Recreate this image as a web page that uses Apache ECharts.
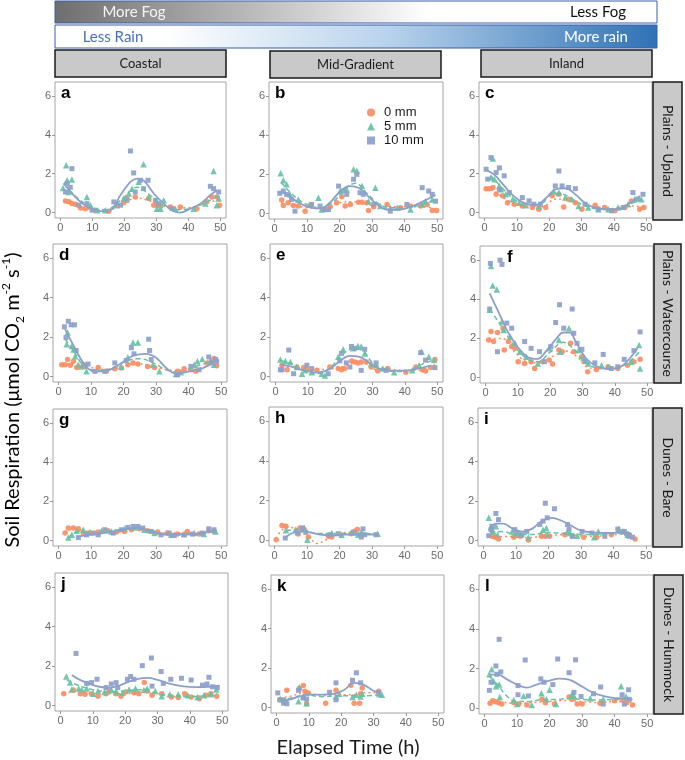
<!DOCTYPE html>
<html>
<head>
<meta charset="utf-8">
<title>Soil respiration</title>
<script src="https://cdn.jsdelivr.net/npm/echarts/dist/echarts.min.js"></script>
</head>
<body style="margin:0;background:#fff;">
<div id="main" style="width:685px;height:760px;"></div>
<script>
// ticks and labels
var xTicks = [0, 10, 20, 30, 40, 50];
var yTicks = [0, 2, 4, 6];
var columns = ['Coastal', 'Mid-Gradient', 'Inland'];
var rows = ['Plains - Upland', 'Plains - Watercourse', 'Dunes - Bare', 'Dunes - Hummock'];
var letters = ['a', 'b', 'c', 'd', 'e', 'f', 'g', 'h', 'i', 'j', 'k', 'l'];
var seriesNames = ['0 mm', '5 mm', '10 mm'];

// panel a : Coastal / Plains - Upland
var a_0mm = [[1.6,0.6],[2.6,0.55],[3.6,0.46],[4.7,0.43],[6.3,0.24],[7.8,0.2],[10.9,0.12],[15.1,0.07],[17.7,0.38],[19.8,0.5],[20.8,0.72],[23.4,0.8],[27.6,0.72],[29.2,0.38],[30.2,0.38],[31.3,0.33],[34.4,0.29],[37.5,0.29],[42.7,0.2],[45.8,0.55],[47.4,0.8],[49,0.8],[49.8,0.38]];
var a_5mm = [[0.8,1.27],[1.8,2.43],[2.1,1.66],[3.6,1.7],[2.6,1.06],[8.3,0.8],[9.4,0.38],[11.5,0.12],[14,0.12],[17.7,0.38],[19.8,0.72],[21.4,0.98],[22.4,1.23],[24.5,1.58],[26,2.49],[27.6,0.8],[30.2,0.2],[31.3,0.2],[32.3,0.63],[35.9,0.2],[41.7,0.2],[45.3,0.46],[47.9,2.14],[48.9,0.38],[49.5,0.72]];
var a_10mm = [[1.6,1.06],[2.1,1.5],[3.6,2.26],[3.1,1.3],[5.7,0.38],[8.3,0.46],[9.9,0.12],[16.7,0.55],[18.8,0.38],[20.8,0.63],[21.9,3.17],[22.9,2.04],[23.4,1.06],[25,1.66],[26,1.23],[27.4,1.66],[29.7,0.63],[30.7,0.46],[34.9,0.2],[46.9,1.35],[47.9,1.23],[49.5,1.06]];
var a_fit0 = [[1,0.6],[5,0.4],[10,0.15],[15,0.15],[20,0.5],[24,0.75],[28,0.6],[33,0.35],[40,0.25],[46,0.55],[49.8,0.6]];
var a_fit5 = [[1,1.5],[5,0.8],[10,0.25],[14,0.15],[20,0.8],[24,1.3],[28,0.9],[33,0.3],[38,0.15],[44,0.4],[49.5,0.9]];
var a_fit10 = [[1,1.5],[4.7,0.8],[8.3,0.3],[12.5,0.07],[15.6,0.12],[18.8,0.9],[21.9,1.58],[24,1.75],[26,1.66],[29.2,0.98],[32.3,0.46],[35.4,0.07],[37.5,0],[40.6,0.2],[43.8,0.46],[46.9,0.9],[49,1.15]];

// panel b : Mid-Gradient / Plains - Upland
var b_0mm = [[2.2,0.69],[2.7,0.41],[4.2,0.55],[5.8,0.41],[7.3,0.38],[9.4,0.12],[10.9,0.41],[15,0.2],[17.1,0.34],[19.1,0.55],[20.7,0.86],[21.7,0.38],[23.3,0.46],[25.8,0.58],[26.9,0.58],[28.4,0.55],[28.9,0.15],[30.5,0.34],[34.6,0.46],[38.7,0.29],[41.8,0.38],[44.9,0.38],[46.9,0.46],[48.5,0.15],[49.8,0.15]];
var b_5mm = [[1.9,2.06],[2.7,1.7],[3.7,1.5],[4.7,0.98],[7.3,0.72],[13.5,0.8],[14.5,0.2],[16,0.24],[20.2,1.15],[22.2,1.23],[24.3,2.26],[25.3,2.18],[26.9,1.4],[28.9,0.63],[31,1.32],[32.5,0.38],[35.6,0.29],[37.7,0.29],[41.8,0.2],[45.4,0.46],[46.4,0.63],[48.5,0.72]];
var b_10mm = [[1.6,1.03],[2.7,1.15],[3.7,0.98],[5.2,0.72],[6.3,0.12],[11.4,0.46],[14,0.38],[15.5,0.2],[16.6,0.2],[19.7,1.4],[21.2,1.15],[22.2,0.98],[24.3,1.75],[25.3,2],[26.3,1.06],[27.3,0.98],[30.5,0.46],[35.6,0.12],[40.7,0.46],[45.4,1.32],[47.4,1.15],[48.5,0.98],[49.5,0.63]];
var b_fit0 = [[2,0.55],[6,0.4],[10,0.3],[15,0.25],[20,0.55],[24,0.6],[28,0.5],[32,0.35],[37,0.35],[42,0.35],[46,0.35],[49.8,0.2]];
var b_fit5 = [[2,1.6],[6,0.9],[10,0.45],[14,0.3],[18,0.6],[22,1.3],[25,1.55],[28,1.1],[32,0.5],[36,0.3],[40,0.3],[45,0.45],[48.5,0.65]];
var b_fit10 = [[1.6,1.1],[4,0.95],[7,0.6],[10,0.35],[14,0.25],[17,0.55],[20,1.1],[23,1.4],[26,1.3],[29,0.85],[32,0.4],[35,0.2],[38,0.2],[42,0.35],[46,0.65],[49.5,0.95]];

// panel c : Inland / Plains - Upland
var c_0mm = [[0.5,1.23],[1.5,1.23],[2.6,1.29],[3.6,0.94],[5.6,0.86],[7.1,0.51],[9.2,0.43],[11.7,0.34],[14.8,0.26],[16.8,0.17],[18.9,0.26],[20.9,0.86],[23,0.94],[24.5,0.29],[26,0.69],[28.1,0.51],[30.1,0.17],[34.2,0.38],[37.2,0.26],[40.3,0.09],[43.4,0.26],[45.4,0.6],[48,0.17],[49.3,0.26]];
var c_5mm = [[2.6,2.78],[2,1.8],[3.1,1.72],[4.6,1.37],[5.1,1.2],[6.6,0.94],[8.7,0.69],[10.7,0.51],[12.8,0.38],[16.8,0.34],[21.4,1.11],[23,1.03],[25,0.77],[27,0.69],[29.1,0.34],[32.1,0.26],[35.2,0.17],[38.3,0.17],[41.3,0.26],[44.4,0.43],[46.4,0.69],[48.5,0.69]];
var c_10mm = [[0.5,2.23],[2,2.83],[1,1.72],[3.6,2.06],[4.6,2.3],[6.1,1.89],[4.6,1.2],[7.7,1.03],[11.7,0.77],[13.8,0.6],[15.3,0.43],[17.3,0.43],[23,2.14],[21.9,1.37],[24,1.37],[26,1.29],[28.1,1.23],[31.1,0.43],[35.2,0.17],[39.3,0.09],[42.9,0.26],[45.9,1.03],[47.4,0.69],[49,0.94]];
var c_fit0 = [[0.5,1.25],[3,1.1],[6,0.75],[10,0.4],[14,0.28],[18,0.3],[22,0.7],[25,0.65],[28,0.5],[31,0.25],[35,0.3],[40,0.2],[44,0.35],[49,0.3]];
var c_fit5 = [[2,1.9],[5,1.35],[9,0.7],[13,0.4],[17,0.4],[21,0.95],[24,0.95],[27,0.7],[31,0.35],[35,0.2],[40,0.2],[44,0.4],[48.5,0.65]];
var c_fit10 = [[0.5,2.2],[3,1.95],[6,1.4],[9,0.85],[13,0.45],[16,0.4],[19,0.75],[22,1.2],[25,1.25],[28,0.95],[31,0.5],[34,0.25],[38,0.15],[42,0.2],[45,0.5],[48,0.85]];

// panel d : Coastal / Plains - Watercourse
var d_0mm = [[1,0.6],[2,0.6],[2.8,0.86],[3.6,0.57],[4.6,0.77],[5.6,0.46],[8.1,0.51],[12.2,0.46],[14.7,0.26],[17.3,0.39],[19.3,0.43],[21.3,0.6],[22.9,0.69],[24.4,0.63],[27.4,0.51],[29.5,0.46],[36.6,0.26],[38.6,0.39],[40.7,0.34],[42.2,0.26],[45.7,0.69],[47.3,0.77],[47.8,0.91],[48.6,0.55]];
var d_5mm = [[2.8,2.23],[2.5,1.63],[4.1,1.54],[4.6,1.37],[5.1,1.03],[6.1,0.6],[7.1,0.51],[8.6,0.26],[19.3,0.51],[21.3,0.98],[22.9,1.72],[24.4,1.72],[29,0.6],[31,0.26],[36.1,0.12],[37.6,0.22],[41.7,0.6],[42.7,0.77],[44.2,0.89],[46.7,0.81],[47.8,0.6]];
var d_10mm = [[1.8,2.52],[3,2.8],[3.9,2.62],[4.9,2.62],[2.3,1.97],[5.4,1.32],[7.6,0.6],[9.1,0.63],[11.2,0.26],[14.2,0.26],[17.3,0.69],[20.8,0.81],[22.4,1.46],[23.2,1.15],[27.7,1.89],[28,1.32],[28.5,0.86],[36.6,0.09],[40.7,0.51],[43.2,0.34],[46.2,0.99],[47.3,0.69],[48.3,0.86],[48.6,0.77]];
var d_fit0 = [[1,0.6],[5,0.65],[10,0.45],[15,0.35],[20,0.5],[24,0.65],[28,0.55],[33,0.35],[38,0.3],[43,0.4],[48,0.7]];
var d_fit5 = [[2,1.9],[5,1.2],[8,0.5],[12,0.3],[17,0.45],[21,0.8],[25,0.9],[29,0.7],[33,0.35],[37,0.2],[42,0.5],[47,0.75]];
var d_fit10 = [[2,2.4],[5,1.45],[8,0.6],[11,0.25],[15,0.3],[19,0.65],[23,1.05],[27,1.15],[30,0.95],[33,0.45],[36,0.15],[40,0.25],[44,0.4],[48,0.75]];

// panel e : Mid-Gradient / Plains - Watercourse
var e_0mm = [[2,0.57],[3.6,0.34],[6.6,0.48],[8.7,0.45],[9.7,0.34],[12.8,0.31],[16.8,0.48],[19.4,0.4],[20.4,0.34],[21.4,0.4],[23.5,0.79],[24.5,0.74],[25.5,0.69],[26.5,0.74],[28.1,0.74],[29.6,0.48],[31.6,0.28],[34.7,0.4],[40.3,0.22],[43.4,0.48],[45.4,0.34],[46.4,0.28],[48,0.45],[49.3,0.86]];
var e_5mm = [[1.5,0.86],[3.1,0.79],[4.6,0.74],[6.6,0.48],[8.2,0.14],[9.2,0.31],[11.2,0.22],[14.3,0.14],[15.3,0.05],[19.4,1],[20.9,1.38],[24,1.43],[25.5,1.55],[26.5,1.52],[27.6,1.17],[29.6,0.66],[31.1,0.57],[33.2,0.4],[36.7,0.22],[42.3,0.31],[44.4,0.57],[45.2,1.26],[47.4,1],[49,0.83]];
var e_10mm = [[1.5,0.34],[2,0.34],[4.1,1.34],[5.6,0.14],[9.7,0.57],[11.2,0.4],[16.3,0.14],[19.9,0.79],[20.4,1.17],[21.9,0.69],[23,0.48],[23.5,1.52],[24.5,1.43],[27.6,1.38],[26.5,0.31],[31.1,0.69],[34.2,0.31],[44.9,1.21],[46.4,0.83],[49.3,0.45]];
var e_fit0 = [[2,0.5],[6,0.45],[10,0.35],[14,0.35],[18,0.4],[22,0.55],[25,0.72],[28,0.65],[31,0.35],[35,0.35],[40,0.3],[45,0.35],[49.3,0.6]];
var e_fit5 = [[1.5,0.8],[5,0.65],[9,0.3],[13,0.15],[17,0.45],[20,1.0],[24,1.4],[27,1.3],[30,0.7],[34,0.35],[38,0.25],[42,0.35],[45,0.6],[49,0.85]];
var e_fit10 = [[1.5,0.6],[5,0.5],[9,0.3],[13,0.2],[17,0.4],[20,0.8],[23,1.05],[26,1.0],[29,0.7],[32,0.4],[36,0.3],[40,0.3],[44,0.4],[48,0.55]];

// panel f : Inland / Plains - Watercourse
var f_0mm = [[1,1.92],[1.7,2.35],[2.5,1.84],[3.7,2.3],[5.4,2.52],[5.8,1.41],[7.1,1.84],[8.1,1.58],[9.1,1.49],[10.1,0.81],[12.1,0.72],[14.1,0.81],[15.2,0.46],[17.7,0.81],[19.7,0.89],[20.7,0.69],[22.7,1.41],[23.7,1.32],[26.3,1.75],[27.3,1.32],[29.8,1.06],[31.6,0.29],[34.3,0.41],[37.9,0.55],[40.9,0.46],[43.9,0.63],[45.9,0.81],[47.8,0.93]];
var f_5mm = [[1.7,5.7],[2.2,4.7],[1.3,3.46],[3.5,4.5],[5.1,2.86],[5.6,2.43],[7.6,2.09],[9.1,1.75],[10.6,1.32],[12.6,1.06],[16.2,0.72],[19.7,1.49],[22.7,1.92],[23.2,1.32],[25.8,2.52],[28.8,1.41],[30.3,0.98],[31.8,0.72],[35.9,0.63],[37.9,0.55],[45,0.81],[47.5,1.66],[47.8,0.46]];
var f_10mm = [[1.5,5.83],[1.3,3.5],[4.5,6],[5.1,5.78],[3.7,1.32],[6.6,2.78],[8.1,2.52],[12.1,1.84],[14.1,1.49],[16.7,1.32],[18.2,0.81],[20.2,1.58],[21.7,2.81],[22.9,3.72],[24.2,2.52],[26.8,3.5],[27.3,2.26],[28.3,1.75],[29.8,1.44],[30.8,0.81],[33.8,0.75],[36.4,1.18],[38.9,0.46],[40.9,0.55],[42.9,0.93],[45.9,1.37],[47.8,2.33]];
var f_fit0 = [[1,2.0],[5,2.0],[9,1.3],[13,0.8],[17,0.75],[21,1.1],[25,1.35],[28,1.1],[32,0.5],[36,0.45],[40,0.5],[44,0.7],[47.8,0.9]];
var f_fit5 = [[1.3,3.5],[5,2.6],[9,1.6],[13,0.95],[16,0.8],[20,1.3],[24,1.8],[27,1.5],[31,0.75],[35,0.5],[40,0.5],[44,0.75],[47.5,1.3]];
var f_fit10 = [[1.3,4.3],[3,3.7],[5,3.0],[7,2.3],[10,1.55],[13,1.05],[16,0.95],[19,1.4],[22,2.0],[24,2.3],[26,2.3],[28,1.8],[31,1.0],[34,0.6],[37,0.45],[40,0.45],[43,0.7],[47,1.5]];

// panel g : Coastal / Dunes - Bare
var g_0mm = [[2,0.38],[3,0.64],[4.6,0.64],[6.1,0.6],[7.6,0.38],[9.1,0.38],[12.2,0.43],[15.2,0.5],[17.8,0.43],[20.3,0.46],[22.4,0.55],[24.9,0.6],[27.4,0.5],[30.5,0.43],[33.5,0.38],[36.6,0.33],[39.6,0.46],[43.2,0.33],[46.2,0.5],[47.8,0.46]];
var g_5mm = [[3,0.15],[4.1,0.29],[5.6,0.5],[7.6,0.55],[9.7,0.43],[13.2,0.5],[16.3,0.46],[20.3,0.6],[23.4,0.67],[26.4,0.55],[29.5,0.38],[34.6,0.29],[38.6,0.33],[41.7,0.38],[44.7,0.33],[48.3,0.46]];
var g_10mm = [[6.1,0.15],[8.6,0.29],[10.7,0.38],[12.2,0.29],[14.2,0.55],[16.8,0.38],[19.3,0.55],[21.3,0.67],[22.9,0.72],[24.4,0.72],[25.9,0.64],[28.5,0.46],[31.5,0.29],[34,0.38],[35.6,0.26],[38.6,0.29],[41.2,0.33],[44.2,0.38],[46.2,0.6],[47.8,0.55]];
var g_fit0 = [[2,0.45],[5,0.6],[9,0.42],[14,0.45],[19,0.45],[24,0.58],[28,0.48],[33,0.38],[38,0.38],[43,0.38],[47.8,0.47]];
var g_fit5 = [[3,0.15],[6,0.45],[10,0.45],[15,0.48],[20,0.58],[24,0.62],[28,0.45],[33,0.3],[38,0.33],[43,0.35],[48.3,0.45]];
var g_fit10 = [[6,0.2],[10,0.3],[15,0.4],[20,0.55],[24,0.65],[28,0.5],[32,0.33],[37,0.3],[42,0.33],[46,0.45],[48.5,0.55]];

// panel h : Mid-Gradient / Dunes - Bare
var h_0mm = [[0.5,0.03],[2.3,0.75],[3.5,0.72],[7.3,0.33],[7.8,0.63],[9.1,0.55],[10.4,0.17],[16.6,0.21],[17.6,0.17],[23.6,0.34],[24.6,0.46],[25.5,0.55],[26.7,0.29]];
var h_5mm = [[3.5,0.51],[6.5,0.55],[9.1,0.63],[10.1,0.03],[17.6,0.38],[20.6,0.29],[23.6,0.41],[25.7,0.29],[26.7,0.41],[31.7,0.34]];
var h_10mm = [[3.3,0.12],[7,0.38],[8.6,0.63],[9.6,0.41],[17.1,0.29],[19.6,0.34],[24.6,0.38],[26.7,0.17],[27.2,0.58],[27.7,0.29],[31.2,0.29]];
var h_fit0 = [[0.5,0.1],[2.5,0.55],[5,0.65],[8,0.5],[11,0.1],[13,-0.15],[16,0.05],[19,0.3],[23,0.4],[26.7,0.35]];
var h_fit5 = [[3.5,0.5],[7,0.55],[10,0.45],[14,0.35],[18,0.35],[22,0.35],[26,0.35],[31.7,0.35]];
var h_fit10 = [[3.3,0.15],[6,0.4],[9,0.45],[11,0.4],[14,0.3],[18,0.25],[22,0.3],[26,0.3],[31.5,0.3]];

// panel i : Inland / Dunes - Bare
var i_0mm = [[2.8,0.21],[3.6,0.17],[4.6,0.07],[9.3,0.17],[11.3,0.21],[13.8,0.03],[17.8,0.21],[19,0.21],[20.3,0.21],[25,0.29],[27.3,0.24],[30.8,0.17],[34.8,0.17],[39.3,0.29],[42.8,0.46],[44.8,0.29],[46.6,0.07]];
var i_5mm = [[1.6,1.15],[2.3,0.69],[3,0.46],[3.8,0.72],[4.3,0.29],[8.8,0.46],[9.8,0.29],[11.3,0.29],[13.8,0.17],[18.3,0.55],[19.3,0.63],[19.6,0.29],[25.8,0.46],[26.6,0.38],[28.8,0.24],[34,0.17],[35.3,0.46],[41.6,0.58],[42.8,0.46],[44.3,0.29]];
var i_10mm = [[1.6,0.24],[2.3,0.55],[3.8,1.37],[4.6,1.06],[2.6,0.72],[9.6,0.55],[10.3,0.38],[11.8,0.29],[13.3,0.46],[17.3,0.81],[19,1.89],[19.6,1.15],[21.8,1.61],[18.3,0.98],[25.8,0.81],[26.3,0.58],[27.3,0.21],[30.3,0.46],[33.3,0.38],[37.3,0.21],[41.3,0.58],[43.3,0.46],[44,0.34],[44.8,0.21],[45.8,0.17]];
var i_fit0 = [[2,0.2],[8,0.2],[14,0.15],[20,0.25],[26,0.3],[32,0.2],[38,0.25],[44,0.35],[46.5,0.2]];
var i_fit5 = [[2,0.4],[6,0.45],[10,0.3],[15,0.3],[20,0.4],[25,0.35],[30,0.3],[35,0.3],[40,0.35],[44,0.45]];
var i_fit10 = [[2,0.6],[4,0.85],[6,0.85],[9,0.6],[12,0.45],[15,0.6],[18,1.0],[21,1.15],[24,1.0],[27,0.75],[30,0.5],[34,0.4],[38,0.38],[42,0.4],[45.5,0.35]];

// panel j : Coastal / Dunes - Hummock
var j_0mm = [[1,0.6],[4,0.78],[6.1,0.6],[7.6,0.57],[9.6,0.6],[11.6,0.47],[14.1,0.6],[15.2,0.74],[17.2,0.6],[18.7,0.47],[20.2,0.69],[22.7,0.64],[24.2,0.6],[25.9,1.16],[26.8,0.74],[28.3,0.52],[31.3,0.6],[34.3,0.43],[36.4,0.4],[38.4,0.6],[40.4,0.43],[42.9,0.34],[45,0.52],[46.5,0.6],[48.3,0.47]];
var j_5mm = [[1.8,1.47],[3,1.16],[3.5,0.81],[5.6,0.86],[6.6,0.81],[8.1,0.86],[10.1,0.6],[11.6,0.74],[13.6,0.69],[15.7,0.78],[17.2,0.69],[19.2,0.64],[21.2,0.81],[23.2,0.86],[25.8,0.78],[26.8,0.86],[29.3,0.74],[31.3,0.47],[33.8,0.57],[36.4,0.57],[39.4,0.52],[42.4,0.43],[44.4,0.52],[46.5,0.57],[48.2,0.81]];
var j_10mm = [[4.8,2.64],[8.1,1.12],[9.6,1.16],[11.3,1.33],[14.1,0.91],[15.7,1.09],[17.2,1.16],[17.7,0.91],[20.7,1.33],[21.7,1.47],[22.7,1.33],[25.3,2.02],[28.1,2.41],[28.3,0.98],[31.1,1.72],[31.8,1.12],[34.1,1.33],[37.4,1.38],[40.4,1.29],[43.9,1.03],[45.9,1.43],[45.3,1.09],[47,0.95],[48.5,0.91]];
var j_fit0 = [[1,0.65],[5,0.7],[10,0.6],[15,0.6],[20,0.6],[25,0.7],[30,0.6],[35,0.45],[40,0.45],[45,0.5],[48.5,0.5]];
var j_fit5 = [[2,1.3],[5,1.05],[10,0.8],[15,0.7],[20,0.75],[25,0.8],[30,0.6],[35,0.5],[40,0.45],[45,0.5],[48.5,0.6]];
var j_fit10 = [[3.5,1.55],[6,1.3],[9,1.1],[12,0.95],[15,0.9],[18,1.0],[21,1.2],[24,1.35],[27,1.4],[30,1.3],[34,1.1],[38,0.97],[42,0.93],[46,0.95],[49,1.0]];

// panel k : Mid-Gradient / Dunes - Hummock
var k_0mm = [[1,0.39],[2.2,0.31],[3.2,0.87],[7.1,0.97],[8.3,1.11],[8.8,0.82],[9.8,0.74],[9.3,0.19],[15.2,0.22],[18.4,0.87],[23,1.13],[24,0.22],[25.7,0.22],[26.5,0.99],[26,0.7],[31.6,0.82]];
var k_5mm = [[1.2,0.43],[2.7,0.39],[7.1,1.03],[6.8,0.31],[8.3,0.56],[9.3,0.22],[18.4,0.56],[19.4,0.7],[23.5,0.53],[24.7,0.65],[26,0.56],[26.5,0.7],[31.8,0.68],[32.6,0.65]];
var k_10mm = [[0.4,0.74],[1.7,0.39],[2.2,0.22],[3.2,0.19],[6.8,0.87],[8.3,0.48],[9.3,0.43],[16.4,0.77],[18.4,1.25],[18.4,0.39],[23.5,1.38],[24.7,1.76],[26,1.25],[31.6,0.74]];
var k_fit0 = [[1,0.45],[5,0.6],[9,0.75],[14,0.6],[19,0.65],[24,0.65],[28,0.75],[31.6,0.75]];
var k_fit5 = [[1,0.4],[5,0.5],[9,0.65],[14,0.55],[19,0.6],[24,0.6],[28,0.6],[32.6,0.65]];
var k_fit10 = [[0.4,0.45],[2,0.35],[4,0.4],[7,0.55],[10,0.65],[14,0.65],[18,0.7],[21,0.9],[24,1.25],[27,1.15],[30,0.85],[32,0.75]];

// panel l : Inland / Dunes - Hummock
var l_0mm = [[1.7,0.26],[2.5,0.39],[3.3,0.34],[4.3,0.29],[5.3,0.22],[9,0.29],[10.5,0.22],[13,0.17],[17.7,0.46],[18.7,0.29],[21.5,0.22],[26,0.57],[27,0.46],[28.5,0.22],[30,0.22],[35.5,0.26],[40,0.39],[42.5,0.43],[43.7,0.29],[45.5,0.17]];
var l_5mm = [[1.5,1.72],[2.2,1.97],[2.8,1.37],[3.5,1.12],[4.5,1.2],[4.7,0.57],[9,0.43],[10,0.22],[12,0.63],[14.5,0.17],[17.5,0.77],[19,0.46],[20,0.94],[22,0.22],[27,0.74],[27.5,0.63],[32.5,0.51],[36.5,0.46],[42,1.12],[43.5,0.6]];
var l_10mm = [[1.5,0.91],[2,1.32],[3.5,2.14],[3.8,1.72],[4.5,3.48],[5,1.84],[10.3,1.15],[10.3,0.69],[12.5,2.44],[13.5,0.63],[17.3,1.49],[18.3,1.32],[21,1.2],[22.5,2.49],[26,1.8],[28,2.45],[27.5,0.81],[29.7,0.6],[33.5,0.74],[35.7,1.08],[36.5,0.22],[42.3,0.69],[43,0.22],[44.3,0.94],[44.5,0.46]];
var l_fit0 = [[1.5,0.3],[5,0.3],[10,0.25],[15,0.3],[20,0.35],[25,0.4],[30,0.35],[35,0.3],[40,0.35],[45.5,0.3]];
var l_fit5 = [[1.5,1.6],[4,1.2],[7,0.6],[10,0.35],[14,0.35],[18,0.45],[22,0.45],[26,0.5],[30,0.45],[35,0.42],[40,0.45],[44,0.45]];
var l_fit10 = [[1.5,1.7],[4,1.7],[7,1.45],[10,1.2],[13,1.05],[16,1.2],[20,1.4],[23,1.5],[26,1.45],[29,1.2],[32,0.9],[35,0.7],[39,0.55],[43,0.5],[45.5,0.45]];

var panelPoints = [
  [a_0mm, a_5mm, a_10mm], [b_0mm, b_5mm, b_10mm], [c_0mm, c_5mm, c_10mm],
  [d_0mm, d_5mm, d_10mm], [e_0mm, e_5mm, e_10mm], [f_0mm, f_5mm, f_10mm],
  [g_0mm, g_5mm, g_10mm], [h_0mm, h_5mm, h_10mm], [i_0mm, i_5mm, i_10mm],
  [j_0mm, j_5mm, j_10mm], [k_0mm, k_5mm, k_10mm], [l_0mm, l_5mm, l_10mm]
];
var panelFits = [
  [a_fit0, a_fit5, a_fit10], [b_fit0, b_fit5, b_fit10], [c_fit0, c_fit5, c_fit10],
  [d_fit0, d_fit5, d_fit10], [e_fit0, e_fit5, e_fit10], [f_fit0, f_fit5, f_fit10],
  [g_fit0, g_fit5, g_fit10], [h_fit0, h_fit5, h_fit10], [i_fit0, i_fit5, i_fit10],
  [j_fit0, j_fit5, j_fit10], [k_fit0, k_fit5, k_fit10], [l_fit0, l_fit5, l_fit10]
];

// layout (pixels): panel boxes [left, top, width, height]
var boxes = [
  [55, 82, 171, 136], [269, 82, 174, 137], [479, 82, 173, 136],
  [53, 244, 174, 138], [270, 244, 173, 138], [480, 246, 173, 137],
  [53, 409, 174, 137], [269, 407, 174, 139], [478, 408, 174, 138],
  [55, 573, 173, 138], [271, 575, 173, 138], [479, 575, 174, 139]
];
var colStrips = [[55, 50, 171, 27], [270, 51, 171, 27], [481, 50, 171, 27]];
var rowStrips = [[653, 82, 29, 138], [654, 244, 27, 139], [653, 408, 29, 139], [654, 575, 29, 139]];

var colors = ['#FC8D62', '#66C2A5', '#8DA0CB'];
var symbols = ['circle', 'triangle', 'rect'];
var symSizes = [5.5, 6.5, 5];
var lineTypes = [[2, 3], [5, 3], 'solid'];

var myChart = echarts.init(document.getElementById('main'));

var grids = [], xAxes = [], yAxes = [], series = [], graphics = [];

for (var p = 0; p < 12; p++) {
  var bx = boxes[p];
  grids.push({
    left: bx[0], top: bx[1], width: bx[2], height: bx[3],
    show: true, borderColor: '#a6a6a6', borderWidth: 1, backgroundColor: '#fff'
  });
  xAxes.push({
    type: 'value', gridIndex: p, min: -1.7, max: 51.8,
    axisLine: { show: false, onZero: false },
    axisTick: { show: true, length: 3, lineStyle: { color: '#999' }, customValues: xTicks },
    axisLabel: { color: '#6b6b6b', fontSize: 11, fontFamily: 'Liberation Sans', margin: 4, customValues: xTicks },
    splitLine: { show: false }
  });
  yAxes.push({
    type: 'value', gridIndex: p, min: -0.28, max: 6.72,
    axisLine: { show: false, onZero: false },
    axisTick: { show: true, length: 3, lineStyle: { color: '#999' }, customValues: yTicks },
    axisLabel: { color: '#6b6b6b', fontSize: 11, fontFamily: 'Liberation Sans', margin: 4, customValues: yTicks },
    splitLine: { show: false }
  });
  for (var s = 0; s < 3; s++) {
    series.push({
      type: 'scatter', name: seriesNames[s], xAxisIndex: p, yAxisIndex: p,
      data: panelPoints[p][s], symbol: symbols[s], symbolSize: symSizes[s],
      itemStyle: { color: colors[s], opacity: 0.92 }, z: 2 + s, silent: true
    });
  }
  for (var s2 = 0; s2 < 3; s2++) {
    series.push({
      type: 'line', name: seriesNames[s2] + ' fit', xAxisIndex: p, yAxisIndex: p,
      data: panelFits[p][s2], smooth: 0.4, showSymbol: false, clip: true,
      lineStyle: { color: colors[s2], width: s2 === 2 ? 1.8 : 1.5, type: lineTypes[s2] },
      z: 6 + s2, silent: true
    });
  }
  var lx = bx[0] + (p === 5 ? 27 : 6);
  graphics.push({
    type: 'text', x: lx, y: bx[1] + 3, z: 100,
    style: { text: letters[p], fill: '#000', font: 'bold 17px "Liberation Sans", Arial',
      align: 'left', verticalAlign: 'top', textAlign: 'left', textVerticalAlign: 'top' }
  });
}

// header gradient bars
graphics.push({
  type: 'rect', shape: { x: 55, y: 1, width: 602, height: 22 }, z: 50,
  style: {
    fill: new echarts.graphic.LinearGradient(0, 0, 1, 0, [
      { offset: 0, color: '#6e6e6e' }, { offset: 0.3, color: '#b4b4b4' },
      { offset: 0.62, color: '#ffffff' }, { offset: 1, color: '#ffffff' }
    ]),
    stroke: '#3b5ea8', lineWidth: 1
  }
});
graphics.push({
  type: 'rect', shape: { x: 55, y: 25, width: 602, height: 23 }, z: 50,
  style: {
    fill: new echarts.graphic.LinearGradient(0, 0, 1, 0, [
      { offset: 0, color: '#ffffff' }, { offset: 0.18, color: '#ffffff' },
      { offset: 0.55, color: '#b9d3ec' }, { offset: 1, color: '#2f72b5' }
    ]),
    stroke: '#3b5ea8', lineWidth: 1
  }
});
var headerTexts = [
  ['More Fog', 134, 12, '#f4f4f4'], ['Less Fog', 598, 12, '#111'],
  ['Less Rain', 113, 37, '#4472c4'], ['More rain', 596, 37, '#ffffff']
];
headerTexts.forEach(function (t) {
  graphics.push({
    type: 'text', x: t[1], y: t[2], z: 60,
    style: { text: t[0], fill: t[3], font: '15px Lato, "Open Sans", sans-serif',
      align: 'center', verticalAlign: 'middle', textAlign: 'center', textVerticalAlign: 'middle' }
  });
});

// facet strips
colStrips.forEach(function (r, i) {
  graphics.push({
    type: 'rect', shape: { x: r[0], y: r[1], width: r[2], height: r[3] }, z: 50,
    style: { fill: '#c9c9c9', stroke: '#1a1a1a', lineWidth: 1.5 }
  });
  graphics.push({
    type: 'text', x: r[0] + r[2] / 2, y: r[1] + r[3] / 2, z: 60,
    style: { text: columns[i], fill: '#1a1a1a', font: '13px Lato, "Open Sans", sans-serif',
      align: 'center', verticalAlign: 'middle', textAlign: 'center', textVerticalAlign: 'middle' }
  });
});
rowStrips.forEach(function (r, i) {
  graphics.push({
    type: 'rect', shape: { x: r[0], y: r[1], width: r[2], height: r[3] }, z: 50,
    style: { fill: '#c9c9c9', stroke: '#1a1a1a', lineWidth: 1.5 }
  });
  graphics.push({
    type: 'text', x: r[0] + r[2] / 2, y: r[1] + r[3] / 2, rotation: -Math.PI / 2, z: 60,
    style: { text: rows[i], fill: '#1a1a1a', font: '14px Lato, "Open Sans", sans-serif',
      align: 'center', verticalAlign: 'middle', textAlign: 'center', textVerticalAlign: 'middle' }
  });
});

// axis titles
graphics.push({
  type: 'text', x: 348, y: 748, z: 60,
  style: { text: 'Elapsed Time (h)', fill: '#1a1a1a', font: '20px Lato, "Open Sans", sans-serif',
    align: 'center', verticalAlign: 'middle', textAlign: 'center', textVerticalAlign: 'middle' }
});
graphics.push({
  type: 'text', x: 13, y: 400, rotation: Math.PI / 2, z: 60,
  style: {
    text: '{n|Soil Respiration (μmol CO}{sub|2}{n| m}{sup|-2}{n| s}{sup|-1}{n|)}',
    align: 'center', verticalAlign: 'middle', textAlign: 'center', textVerticalAlign: 'middle',
    rich: {
      n: { fontSize: 20, fontFamily: 'Lato', color: '#1a1a1a', lineHeight: 26 },
      sub: { fontSize: 12, fontFamily: 'Lato', color: '#1a1a1a', lineHeight: 12, verticalAlign: 'bottom' },
      sup: { fontSize: 12, fontFamily: 'Lato', color: '#1a1a1a', lineHeight: 12, verticalAlign: 'top' }
    }
  }
});

option = {
  animation: false,
  backgroundColor: '#ffffff',
  legend: {
    data: seriesNames, orient: 'vertical', left: 362, top: 101,
    itemWidth: 8, itemHeight: 8, itemGap: 1, selectedMode: false,
    textStyle: { fontSize: 13, lineHeight: 13, color: '#1a1a1a', fontFamily: 'Liberation Sans', padding: [0, 0, 0, 4] }
  },
  grid: grids,
  xAxis: xAxes,
  yAxis: yAxes,
  series: series,
  graphic: { elements: graphics }
};
myChart.setOption(option);
</script>
</body>
</html>
